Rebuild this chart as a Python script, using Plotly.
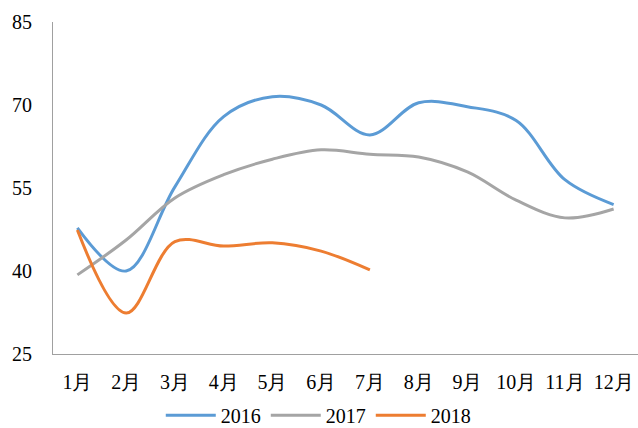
import plotly.graph_objects as go

months = ["1月", "2月", "3月", "4月", "5月", "6月", "7月", "8月", "9月", "10月", "11月", "12月"]
s2016 = [47.8, 40.0, 55.2, 67.9, 71.5, 70.0, 64.6, 70.4, 69.7, 67.2, 56.5, 52.0]
s2017 = [39.3, 45.6, 53.2, 57.4, 60.2, 61.9, 61.1, 60.6, 57.9, 52.8, 49.6, 51.2]
s2018 = [47.4, 32.4, 45.3, 44.5, 45.1, 43.6, 40.2]

series = [("2016", s2016, "#5B9BD5"), ("2017", s2017, "#A5A5A5"), ("2018", s2018, "#ED7D31")]

fig = go.Figure()
for name, vals, color in series:
    fig.add_trace(go.Scatter(
        x=months[:len(vals)], y=vals, name=name, mode="lines",
        line=dict(color=color, width=3, shape="spline", smoothing=1.0),
    ))

font = dict(family="Liberation Serif, Times New Roman, serif", size=20, color="#000")
fig.update_layout(
    width=638, height=428,
    margin=dict(l=53, r=0, t=22, b=74, autoexpand=False),
    paper_bgcolor="white", plot_bgcolor="white",
    font=font,
    showlegend=True,
    legend=dict(orientation="h", x=0.252, xanchor="left", xref="container",
                y=0.03, yanchor="middle", yref="container",
                font=font, itemwidth=50, tracegroupgap=0, bgcolor="rgba(0,0,0,0)"),
)
fig.update_xaxes(
    type="category", categoryorder="array", categoryarray=months,
    range=[-0.5, 11.5], showgrid=False, showline=True, linecolor="#A0A0A0", linewidth=1,
    ticks="", ticklabelstandoff=10, tickfont=font, zeroline=False, automargin=False,
)
fig.update_yaxes(
    range=[25, 85], tick0=25, dtick=15, showgrid=False, showline=True,
    linecolor="#A0A0A0", linewidth=1, ticks="", ticklabelstandoff=16, tickfont=font,
    zeroline=False, automargin=False,
)
fig.write_html("out.html")
